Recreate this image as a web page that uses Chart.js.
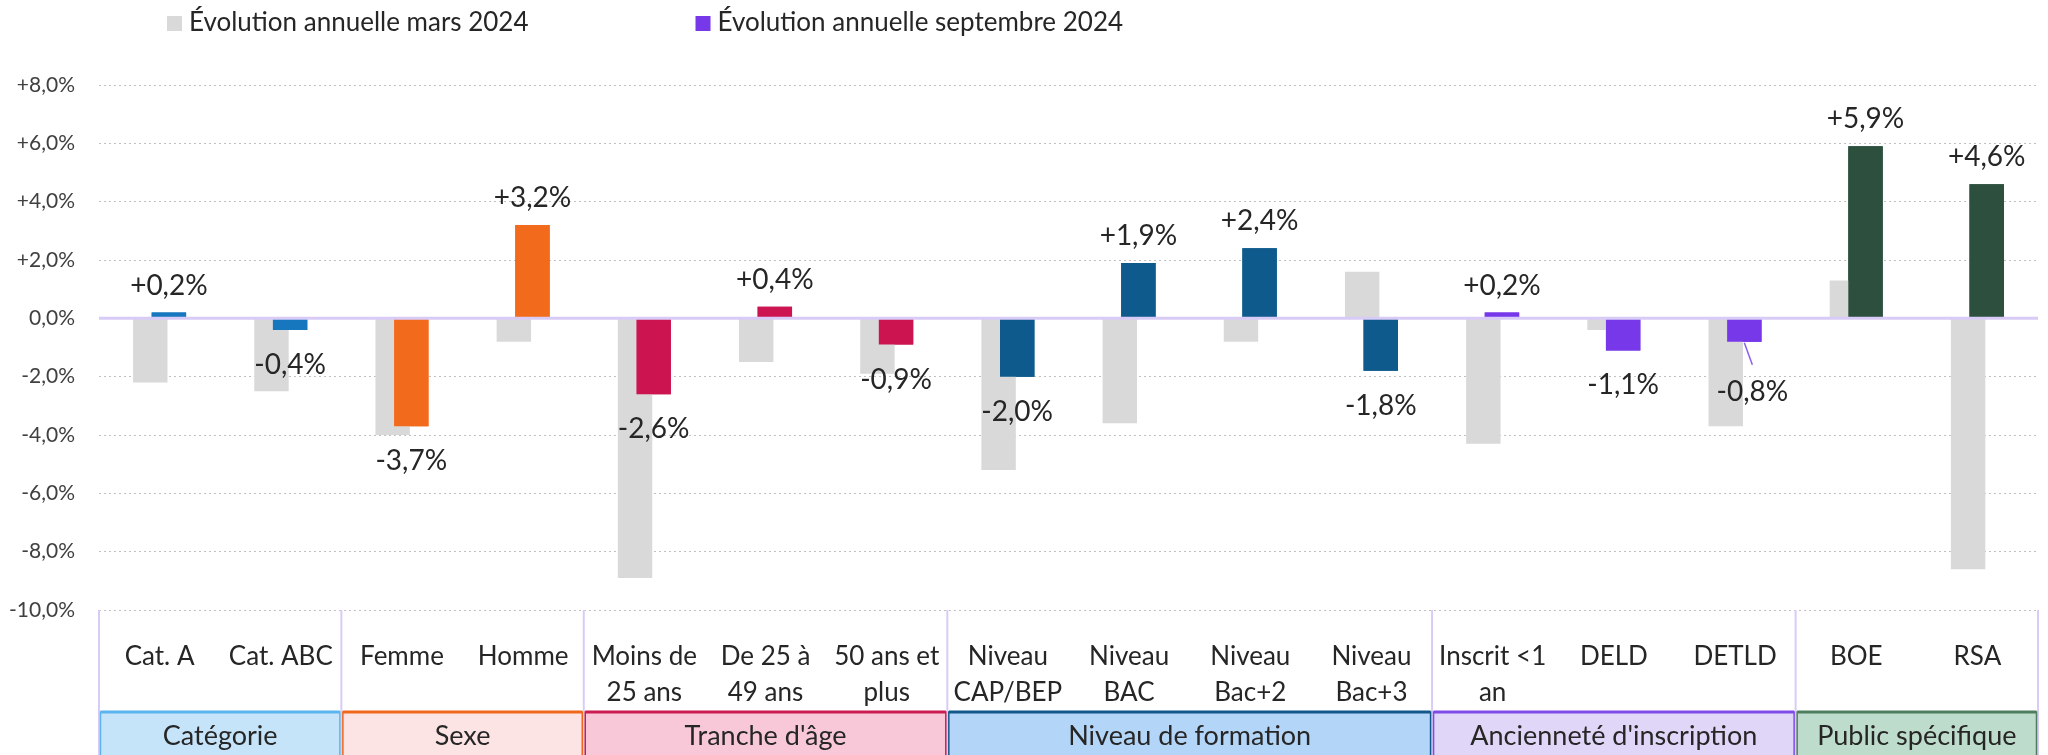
<!DOCTYPE html>
<html>
<head>
<meta charset="utf-8">
<script src="https://cdn.jsdelivr.net/npm/chart.js@4.4.1/dist/chart.umd.min.js"></script>
<style>
  body { margin: 0; background: #fff; }
</style>
</head>
<body>
<canvas id="chart" width="2048" height="755"></canvas>
<script>
// données
const categories = [
  ['Cat. A'], ['Cat. ABC'], ['Femme'], ['Homme'],
  ['Moins de', '25 ans'], ['De 25 à', '49 ans'], ['50 ans et', 'plus'],
  ['Niveau', 'CAP/BEP'], ['Niveau', 'BAC'], ['Niveau', 'Bac+2'], ['Niveau', 'Bac+3'],
  ['Inscrit <1', 'an'], ['DELD'], ['DETLD'], ['BOE'], ['RSA']
];
const mars2024 = [-2.2, -2.5, -4.0, -0.8, -8.9, -1.5, -1.9, -5.2, -3.6, -0.8, 1.6, -4.3, -0.4, -3.7, 1.3, -8.6];
const sept2024 = [0.2, -0.4, -3.7, 3.2, -2.6, 0.4, -0.9, -2.0, 1.9, 2.4, -1.8, 0.2, -1.1, -0.8, 5.9, 4.6];
const groupNames = ['Catégorie', 'Sexe', "Tranche d'âge", 'Niveau de formation', "Ancienneté d'inscription", 'Public spécifique'];
const groupSizes = [2, 2, 3, 4, 3, 2];
const seriesNames = ['Évolution annuelle mars 2024', 'Évolution annuelle septembre 2024'];
const yMin = -10, yMax = 8, yStep = 2;

// couleurs par groupe
const groupBar = ['#1677be', '#f26a1b', '#cc1450', '#0e5a8c', '#7638e8', '#2c4f3e'];
const groupFill = ['#c5e4f9', '#fde4e4', '#f8c8d8', '#b3d5f7', '#e0d6f8', '#bedccb'];
const groupBorder = ['#5bb4ee', '#f0661a', '#cc1b50', '#13588a', '#7e4ae8', '#4e7e5e'];
const greyColor = '#d9d9d9';
const legendColors = [greyColor, '#7638e8'];
const lavender = '#d8ccf7';
const textColor = '#262626';
const FONT = 'Lato';

let barColors = [];
groupSizes.forEach((n, g) => { for (let k = 0; k < n; k++) barColors.push(groupBar[g]); });

function fmt(v) {
  let s = Math.abs(v).toFixed(1).replace('.', ',') + '%';
  if (v > 0) return '+' + s;
  if (v < 0) return '-' + s;
  return s;
}

const leaderIndex = 13; // DETLD : étiquette décalée avec trait

const decor = {
  id: 'decor',
  afterDatasetsDraw(chart) {
    const ctx = chart.ctx;
    const area = chart.chartArea;
    const y = chart.scales.y;
    const meta = chart.getDatasetMeta(1);
    // barres colorées par-dessus les grises
    meta.data.forEach(b => b.draw(ctx));

    // ligne du zéro
    const y0 = y.getPixelForValue(0);
    ctx.save();
    ctx.strokeStyle = lavender;
    ctx.lineWidth = 3;
    ctx.beginPath();
    ctx.moveTo(area.left, y0);
    ctx.lineTo(area.right, y0);
    ctx.stroke();

    // étiquettes
    ctx.font = '28px ' + FONT;
    ctx.fillStyle = textColor;
    ctx.textAlign = 'center';
    ctx.textBaseline = 'middle';
    meta.data.forEach((bar, i) => {
      const v = sept2024[i];
      let lx = bar.x;
      let ly = v >= 0 ? bar.y - 27 : bar.y + 35;
      if (i === leaderIndex) {
        ctx.strokeStyle = '#8a5ff0';
        ctx.lineWidth = 1.5;
        ctx.beginPath();
        ctx.moveTo(bar.x, bar.y + 1);
        ctx.lineTo(bar.x + 8, bar.y + 23);
        ctx.stroke();
        lx += 8;
        ly += 15;
      }
      ctx.fillText(fmt(v), lx, ly);
    });
    ctx.restore();
  },
  afterDraw(chart) {
    const ctx = chart.ctx;
    const area = chart.chartArea;
    const xs = chart.scales.x;
    const catW = (xs.right - xs.left) / categories.length;
    const top = area.bottom;
    const boxTop = 712;
    const boxBottom = 757;
    ctx.save();

    // séparateurs verticaux du tableau
    let bounds = [xs.left];
    let acc = 0;
    groupSizes.forEach(n => { acc += n; bounds.push(xs.left + acc * catW); });
    ctx.strokeStyle = lavender;
    ctx.lineWidth = 2;
    bounds.forEach(bx => {
      ctx.beginPath();
      ctx.moveTo(bx, top);
      ctx.lineTo(bx, boxBottom);
      ctx.stroke();
    });

    // cases des groupes
    ctx.font = '27px ' + FONT;
    ctx.textAlign = 'center';
    ctx.textBaseline = 'middle';
    for (let g = 0; g < groupNames.length; g++) {
      const l = bounds[g] + 1.5, r = bounds[g + 1] - 1.5;
      ctx.fillStyle = groupFill[g];
      ctx.fillRect(l, boxTop, r - l, boxBottom - boxTop);
      ctx.strokeStyle = groupBorder[g];
      ctx.lineWidth = 1.5;
      ctx.strokeRect(l, boxTop, r - l, boxBottom - boxTop);
      ctx.lineWidth = 3;
      ctx.beginPath();
      ctx.moveTo(l, boxTop);
      ctx.lineTo(r, boxTop);
      ctx.stroke();
      ctx.fillStyle = textColor;
      ctx.fillText(groupNames[g], (l + r) / 2, 736);
    }

    // légende
    ctx.font = '26px ' + FONT;
    ctx.textAlign = 'left';
    let lx = 167;
    seriesNames.forEach((name, i) => {
      ctx.fillStyle = legendColors[i];
      ctx.fillRect(lx, 16, 15, 15);
      ctx.fillStyle = textColor;
      ctx.fillText(name, lx + 22, 23);
      lx += 22 + ctx.measureText(name).width + 167;
    });
    ctx.restore();
  }
};

Chart.defaults.font.family = FONT;

new Chart(document.getElementById('chart'), {
  type: 'bar',
  data: {
    labels: categories,
    datasets: [
      {
        label: seriesNames[0],
        data: mars2024,
        backgroundColor: greyColor,
        barPercentage: 1.85,
        categoryPercentage: 0.307
      },
      {
        label: seriesNames[1],
        data: sept2024,
        backgroundColor: barColors,
        barPercentage: 1.85,
        categoryPercentage: 0.307
      }
    ]
  },
  options: {
    responsive: false,
    animation: false,
    devicePixelRatio: 1,
    layout: { padding: { top: 85, right: 10, left: 0, bottom: 0 } },
    plugins: {
      legend: { display: false },
      tooltip: { enabled: false }
    },
    scales: {
      x: {
        offset: true,
        grid: { display: false },
        border: { display: false },
        ticks: {
          font: { size: 26, lineHeight: 1.385 },
          color: textColor,
          padding: 21,
          maxRotation: 0,
          autoSkip: false
        },
        afterFit: s => { s.height = 145; }
      },
      y: {
        min: yMin,
        max: yMax,
        ticks: {
          stepSize: yStep,
          font: { size: 21 },
          color: '#404040',
          padding: 24,
          callback: v => fmt(v)
        },
        grid: {
          color: '#bfbfbf',
          drawTicks: false
        },
        border: { display: false, dash: [2, 3] },
        afterFit: s => { s.width = 99; }
      }
    }
  },
  plugins: [decor]
});
</script>
</body>
</html>
